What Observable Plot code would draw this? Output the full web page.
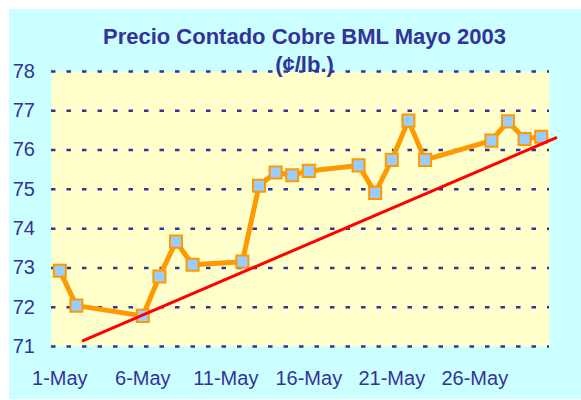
<!DOCTYPE html>
<html>
<head>
<meta charset="utf-8">
<script src="https://cdn.jsdelivr.net/npm/d3@7"></script>
<script src="https://cdn.jsdelivr.net/npm/@observablehq/plot@0.6"></script>
<style>
  html, body { margin: 0; padding: 0; background: #ffffff; }
  #wrap { position: relative; width: 581px; height: 400px; overflow: hidden; font-family: "Liberation Sans", Arial, sans-serif; }
  #bg { position: absolute; left: 9px; top: 9px; width: 572px; height: 390px; background: #CCFFFF; }
  #chart { position: absolute; left: 0; top: 0; }
  .ttl { position: absolute; left: 0; width: 609px; text-align: center; font-weight: bold; font-size: 22px; line-height: 22px; color: #333399; white-space: nowrap; }
</style>
</head>
<body>
<div id="wrap">
  <div id="bg"></div>
  <div id="chart"></div>
  <div class="ttl" style="top:25.7px">Precio Contado Cobre BML Mayo 2003</div>
  <div class="ttl" style="top:53.9px">(¢/lb.)</div>
</div>
<script>
// Day of May for each quoted price
const days = [1, 2, 6, 7, 8, 9, 12, 13, 14, 15, 16, 19, 20, 21, 22, 23, 27, 28, 29, 30];
// Cash copper price, ¢/lb
const prices = [72.93, 72.04, 71.78, 72.78, 73.67, 73.08, 73.16, 75.09, 75.43, 75.36, 75.47, 75.61, 74.91, 75.75, 76.75, 75.75, 76.24, 76.73, 76.28, 76.34];
// Linear trend line end points (day, value)
const trendDays = [2.41, 30.88];
const trendValues = [71.15, 76.31];
// Axis ticks
const xTickDays = [1, 6, 11, 16, 21, 26];
const xTickLabels = ["1-May", "6-May", "11-May", "16-May", "21-May", "26-May"];
const yTicks = [71, 72, 73, 74, 75, 76, 77, 78];

const price = days.map((d, i) => ({day: d, value: prices[i]}));
const trend = trendDays.map((d, i) => ({day: d, value: trendValues[i]}));

const chart = Plot.plot({
  width: 581,
  height: 400,
  marginLeft: 51,
  marginRight: 32,
  marginTop: 71,
  marginBottom: 54,
  style: {background: "transparent", fontFamily: "'Liberation Sans', Arial, sans-serif", fontSize: "20px", color: "#333399"},
  x: {type: "linear", domain: [0.5, 30.5], ticks: xTickDays, tickFormat: d => xTickLabels[xTickDays.indexOf(d)], tickSize: 0, tickPadding: 24, label: null},
  y: {domain: [71, 78], ticks: yTicks, tickFormat: d => String(d), tickSize: 0, tickPadding: 16.5, label: null},
  marks: [
    Plot.frame({fill: "#FFFFCC", stroke: null}),
    Plot.ruleY(yTicks, {stroke: "#333399", strokeWidth: 2.5, strokeDasharray: "4.5,11"}),
    Plot.line(price, {x: "day", y: "value", stroke: "#FF9900", strokeWidth: 5, strokeLinejoin: "round"}),
    Plot.dot(price, {x: "day", y: "value", symbol: "square", r: 6.8, fill: "#99CCFF", stroke: "#FF9900", strokeWidth: 2}),
    Plot.line(trend, {x: "day", y: "value", stroke: "#FF0000", strokeWidth: 3})
  ]
});
document.getElementById("chart").appendChild(chart);
</script>
</body>
</html>
